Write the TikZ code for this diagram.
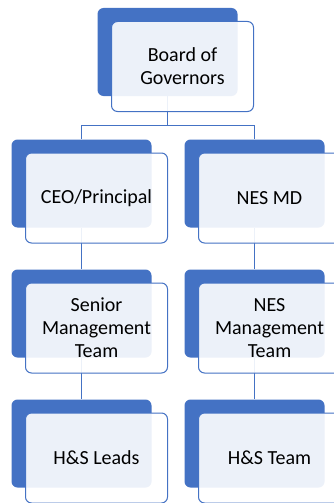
\documentclass[tikz,border=0pt]{standalone}
\usepackage{fontspec}
\setmainfont{Carlito}
\usetikzlibrary{positioning,calc,backgrounds}
\definecolor{orgblue}{RGB}{68,114,196}

\begin{document}
\begin{tikzpicture}[%
      x=1pt, y=-1pt,                % work in picture pixels, top to bottom
      node distance=130pt and 86pt, % Global setup of box spacing
      ]
  \tikzset{
    back/.style={rectangle, rounded corners=6pt, fill=orgblue, on grid,
                 minimum width=140pt, minimum height=88pt, inner sep=0pt},
    front/.style={rectangle, rounded corners=6pt, draw=orgblue, line width=1pt,
                  fill=white, fill opacity=0.9, text opacity=1, on grid,
                  minimum width=142pt, minimum height=90pt, align=center,
                  font=\fontsize{20}{23}\selectfont},
    link/.style={draw=orgblue, line width=0.9pt},
  }
  \clip (0,0) rectangle (334,503);
  \useasboundingbox (0,0) rectangle (334,503);

  % Back plates
  \node [back] at (167.5,52)            (gov)   {};
  \node [back, below left=131.5pt and 86pt of gov]  (ceo)   {};
  \node [back, below right=131.5pt and 87pt of gov] (nes)   {};
  \node [back, below=of ceo]            (smt)   {};
  \node [back, below=of smt]            (hsl)   {};
  \node [back, below=of nes]            (nesmt) {};
  \node [back, below=of nesmt]          (hst)   {};

  % Front boxes with the text
  \node [front, below right=14.5pt and 15pt of gov]   (gov f)   {Board of\\Governors};
  \node [front, below right=14.5pt and 15pt of ceo]   (ceo f)   {CEO/Principal};
  \node [front, below right=14.5pt and 15pt of nes]   (nes f)   {NES MD};
  \node [front, below right=14.5pt and 15pt of smt]   (smt f)   {Senior\\Management\\Team};
  \node [front, below right=14.5pt and 15pt of nesmt] (nesmt f) {NES\\Management\\Team};
  \node [front, below right=14.5pt and 15pt of hsl]   (hsl f)   {H\&S Leads};
  \node [front, below right=14.5pt and 15pt of hst]   (hst f)   {H\&S Team};

  % Connectors
  \begin{scope}[on background layer]
    \coordinate (bar) at ($(gov.south)+(0,29)$);
    \draw [link] (gov.south) -- (bar) -| (ceo.north);
    \draw [link] (bar) -| (nes.north);
    \draw [link] (ceo.south) -- (smt.north);
    \draw [link] (smt.south) -- (hsl.north);
    \draw [link] (nes.south) -- (nesmt.north);
    \draw [link] (nesmt.south) -- (hst.north);
  \end{scope}

\end{tikzpicture}
\end{document}
